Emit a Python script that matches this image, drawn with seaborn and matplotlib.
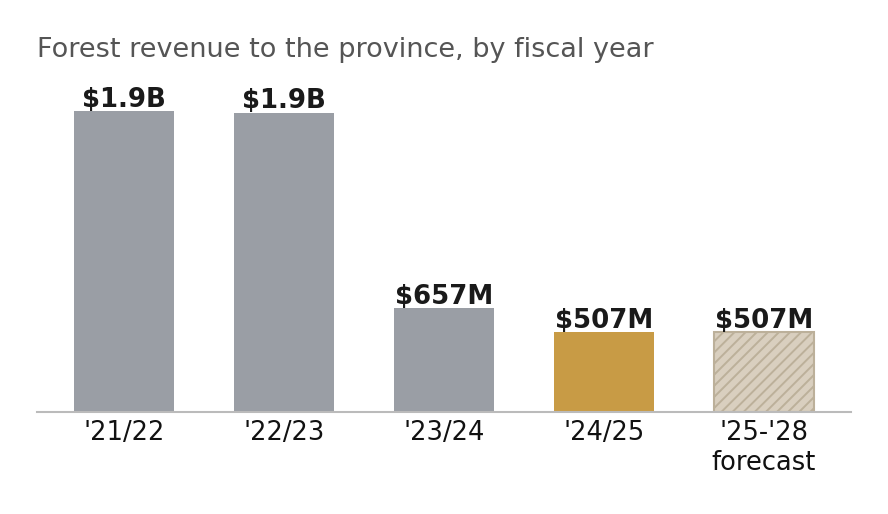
import matplotlib
matplotlib.use("Agg")
import matplotlib.pyplot as plt
import seaborn as sns
import pandas as pd

# fiscal-year forest revenue, in $ millions
years = ["'21/22", "'22/23", "'23/24", "'24/25", "'25-'28\nforecast"]
revenue = [1900, 1890, 657, 507, 507]
labels = ["$1.9B", "$1.9B", "$657M", "$507M", "$507M"]
colors = ["#9a9ea5", "#9a9ea5", "#9a9ea5", "#c89b45", "#d9cfbf"]

df = pd.DataFrame({"year": years, "revenue": revenue})

sns.set_theme(style="white")
plt.rcParams["font.family"] = ["DejaVu Sans"]
plt.rcParams["hatch.linewidth"] = 1.4
plt.rcParams["hatch.color"] = "#c2b6a0"

fig = plt.figure(figsize=(8.88, 5.14), dpi=100)
ax = fig.add_axes([37 / 888, 102 / 514, 814 / 888, 332 / 514])

sns.barplot(data=df, x="year", y="revenue", hue="year", palette=colors,
            legend=False, width=0.625, saturation=1, linewidth=0, ax=ax)

# forecast bar is hatched
fc = ax.patches[-1]
fc.set_hatch("///")
fc.set_edgecolor("#bcb09a")
fc.set_linewidth(1.5)

for p, lab in zip(ax.patches, labels):
    ax.annotate(lab, (p.get_x() + p.get_width() / 2, p.get_height()),
                xytext=(0, 3), textcoords="offset points",
                ha="center", va="baseline", fontsize=18.7,
                fontweight="bold", color="#1a1a1a")

ax.set_xlim(-0.54375, 4.54375)
ax.set_ylim(0, 1900 * 332 / 301)
ax.set_xlabel("")
ax.set_ylabel("")
ax.set_yticks([])
ax.tick_params(axis="x", length=0, pad=6, labelsize=18.5, labelcolor="#111111")
for s in ["top", "right", "left"]:
    ax.spines[s].set_visible(False)
ax.spines["bottom"].set_color("#bbbbbb")
ax.spines["bottom"].set_linewidth(1.5)

fig.text(37 / 888, 1 - 50 / 514, "Forest revenue to the province, by fiscal year",
         fontsize=19.5, color="#555555", ha="left", va="center")

fig.savefig("out.png", dpi=100)
